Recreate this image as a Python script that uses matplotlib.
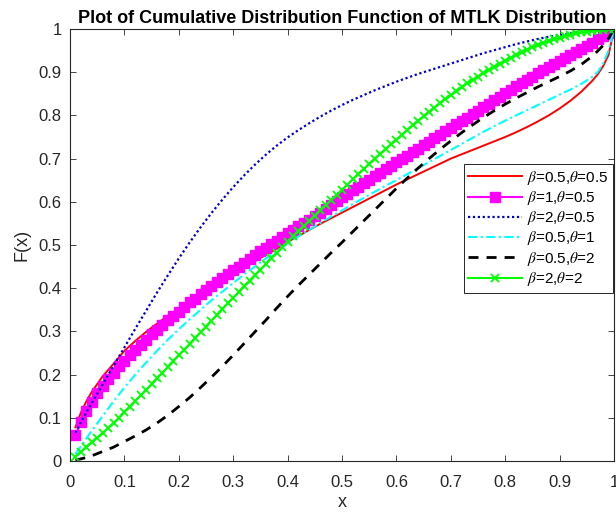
import matplotlib.pyplot as plt

plt.rcParams["font.family"] = ["Liberation Sans", "DejaVu Sans"]
plt.rcParams["mathtext.fontset"] = "stix"

# x grid for the two marker curves (0.01 step, as in the MATLAB plot)
x_fine = [
    0.01, 0.02, 0.03, 0.04, 0.05, 0.06, 0.07, 0.08, 0.09, 0.10,
    0.11, 0.12, 0.13, 0.14, 0.15, 0.16, 0.17, 0.18, 0.19, 0.20,
    0.21, 0.22, 0.23, 0.24, 0.25, 0.26, 0.27, 0.28, 0.29, 0.30,
    0.31, 0.32, 0.33, 0.34, 0.35, 0.36, 0.37, 0.38, 0.39, 0.40,
    0.41, 0.42, 0.43, 0.44, 0.45, 0.46, 0.47, 0.48, 0.49, 0.50,
    0.51, 0.52, 0.53, 0.54, 0.55, 0.56, 0.57, 0.58, 0.59, 0.60,
    0.61, 0.62, 0.63, 0.64, 0.65, 0.66, 0.67, 0.68, 0.69, 0.70,
    0.71, 0.72, 0.73, 0.74, 0.75, 0.76, 0.77, 0.78, 0.79, 0.80,
    0.81, 0.82, 0.83, 0.84, 0.85, 0.86, 0.87, 0.88, 0.89, 0.90,
    0.91, 0.92, 0.93, 0.94, 0.95, 0.96, 0.97, 0.98, 0.99, 1.00,
]

# x grid for the plain line curves
x_line = [
    0.01, 0.02, 0.03, 0.04, 0.06, 0.08, 0.10, 0.12, 0.14, 0.16,
    0.18, 0.20, 0.22, 0.24, 0.26, 0.28, 0.30, 0.32, 0.34, 0.36,
    0.38, 0.40, 0.42, 0.44, 0.46, 0.48, 0.50, 0.52, 0.54, 0.56,
    0.58, 0.60, 0.62, 0.64, 0.66, 0.68, 0.70, 0.72, 0.74, 0.76,
    0.78, 0.80, 0.82, 0.84, 0.86, 0.88, 0.90, 0.92, 0.94, 0.96,
    0.97, 0.98, 0.99, 1.00,
]

# beta=0.5, theta=0.5 (on x_line)
F_b05_t05 = [
    0.078, 0.112, 0.138, 0.160, 0.196, 0.225, 0.255, 0.278, 0.299, 0.318,
    0.336, 0.353, 0.369, 0.387, 0.403, 0.418, 0.433, 0.448, 0.463, 0.477,
    0.491, 0.507, 0.521, 0.535, 0.549, 0.562, 0.575, 0.588, 0.601, 0.614,
    0.627, 0.640, 0.652, 0.664, 0.676, 0.688, 0.700, 0.710, 0.720, 0.730,
    0.740, 0.750, 0.761, 0.773, 0.786, 0.800, 0.816, 0.834, 0.855, 0.880,
    0.895, 0.914, 0.940, 1.000,
]

# beta=2, theta=0.5 (on x_line)
F_b2_t05 = [
    0.065, 0.090, 0.112, 0.134, 0.177, 0.220, 0.263, 0.306, 0.348, 0.390,
    0.430, 0.469, 0.506, 0.541, 0.574, 0.605, 0.634, 0.661, 0.686, 0.709,
    0.730, 0.749, 0.766, 0.782, 0.797, 0.811, 0.824, 0.836, 0.847, 0.858,
    0.868, 0.878, 0.887, 0.896, 0.904, 0.912, 0.920, 0.928, 0.936, 0.944,
    0.951, 0.958, 0.965, 0.971, 0.977, 0.982, 0.986, 0.990, 0.993, 0.996,
    0.997, 0.998, 0.999, 1.000,
]

# beta=0.5, theta=1 (on x_line)
F_b05_t1 = [
    0.016, 0.034, 0.052, 0.070, 0.104, 0.138, 0.170, 0.200, 0.228, 0.255,
    0.281, 0.305, 0.328, 0.350, 0.372, 0.392, 0.412, 0.432, 0.450, 0.469,
    0.486, 0.503, 0.520, 0.535, 0.551, 0.566, 0.580, 0.595, 0.609, 0.623,
    0.637, 0.650, 0.664, 0.678, 0.692, 0.706, 0.720, 0.734, 0.748, 0.762,
    0.775, 0.788, 0.800, 0.812, 0.824, 0.836, 0.848, 0.860, 0.873, 0.889,
    0.900, 0.920, 0.950, 1.000,
]

# beta=0.5, theta=2 (on x_line)
F_b05_t2 = [
    0.002, 0.005, 0.008, 0.012, 0.022, 0.032, 0.045, 0.058, 0.072, 0.088,
    0.106, 0.126, 0.147, 0.170, 0.194, 0.219, 0.245, 0.272, 0.299, 0.326,
    0.354, 0.381, 0.407, 0.432, 0.457, 0.482, 0.506, 0.531, 0.556, 0.581,
    0.606, 0.631, 0.655, 0.678, 0.700, 0.721, 0.741, 0.760, 0.778, 0.795,
    0.811, 0.826, 0.840, 0.853, 0.866, 0.878, 0.890, 0.903, 0.918, 0.937,
    0.949, 0.962, 0.978, 1.000,
]

# beta=1, theta=0.5 (on x_fine)
F_b1_t05 = [
    0.060, 0.090, 0.115, 0.137, 0.157, 0.174, 0.190, 0.204, 0.219, 0.232,
    0.245, 0.257, 0.269, 0.281, 0.293, 0.304, 0.315, 0.326, 0.336, 0.346,
    0.356, 0.367, 0.376, 0.386, 0.396, 0.405, 0.414, 0.423, 0.433, 0.441,
    0.450, 0.459, 0.468, 0.476, 0.485, 0.493, 0.502, 0.510, 0.518, 0.527,
    0.535, 0.543, 0.551, 0.559, 0.567, 0.575, 0.584, 0.592, 0.601, 0.610,
    0.619, 0.627, 0.635, 0.643, 0.651, 0.659, 0.667, 0.675, 0.683, 0.691,
    0.699, 0.707, 0.715, 0.723, 0.731, 0.739, 0.747, 0.755, 0.763, 0.771,
    0.779, 0.787, 0.795, 0.803, 0.811, 0.819, 0.827, 0.835, 0.843, 0.851,
    0.859, 0.867, 0.874, 0.882, 0.889, 0.897, 0.904, 0.912, 0.919, 0.926,
    0.933, 0.940, 0.947, 0.954, 0.961, 0.968, 0.976, 0.983, 0.991, 1.000,
]

# beta=2, theta=2 (on x_fine)
F_b2_t2 = [
    0.010, 0.021, 0.032, 0.043, 0.054, 0.065, 0.076, 0.088, 0.100, 0.114,
    0.126, 0.139, 0.152, 0.165, 0.178, 0.191, 0.204, 0.218, 0.231, 0.245,
    0.258, 0.271, 0.285, 0.298, 0.311, 0.325, 0.338, 0.351, 0.365, 0.378,
    0.391, 0.404, 0.417, 0.430, 0.443, 0.456, 0.469, 0.482, 0.495, 0.508,
    0.520, 0.532, 0.544, 0.556, 0.568, 0.580, 0.592, 0.604, 0.616, 0.628,
    0.640, 0.652, 0.664, 0.676, 0.688, 0.700, 0.711, 0.722, 0.733, 0.744,
    0.755, 0.766, 0.777, 0.788, 0.798, 0.808, 0.818, 0.828, 0.838, 0.847,
    0.856, 0.865, 0.874, 0.882, 0.890, 0.898, 0.906, 0.913, 0.920, 0.927,
    0.934, 0.940, 0.946, 0.952, 0.958, 0.963, 0.968, 0.972, 0.976, 0.980,
    0.984, 0.987, 0.990, 0.992, 0.994, 0.996, 0.997, 0.998, 0.999, 1.000,
]

labels = [
    r"$\beta$=0.5,$\theta$=0.5",
    r"$\beta$=1,$\theta$=0.5",
    r"$\beta$=2,$\theta$=0.5",
    r"$\beta$=0.5,$\theta$=1",
    r"$\beta$=0.5,$\theta$=2",
    r"$\beta$=2,$\theta$=2",
]

tick_vals = [0, 0.1, 0.2, 0.3, 0.4, 0.5, 0.6, 0.7, 0.8, 0.9, 1]
tick_text = ["0", "0.1", "0.2", "0.3", "0.4", "0.5", "0.6", "0.7", "0.8", "0.9", "1"]

axis_grey = "#262626"

fig = plt.figure(figsize=(6.16, 5.15), dpi=100)
ax = fig.add_axes([70 / 616, 1 - 461 / 515, 544 / 616, 432 / 515])

ax.plot(x_line, F_b05_t05, color="red", linestyle="-", linewidth=1.4, label=labels[0])
ax.plot(x_fine, F_b1_t05, color="magenta", linestyle="-", linewidth=1.5,
        marker="s", markersize=6.5, markerfacecolor="magenta", label=labels[1])
ax.plot(x_line, F_b2_t05, color="#0000d0", linestyle=(0, (1, 1.2)), linewidth=1.6,
        label=labels[2])
ax.plot(x_line, F_b05_t1, color="cyan", linestyle=(0, (4.5, 1.6, 1, 1.6)), linewidth=1.5,
        label=labels[3])
ax.plot(x_line, F_b05_t2, color="black", linestyle=(0, (3.6, 2.9)), linewidth=2.0,
        label=labels[4])
ax.plot(x_fine, F_b2_t2, color="#00ff00", linestyle="-", linewidth=1.5,
        marker="x", markersize=6, markeredgewidth=1.3, label=labels[5])

ax.set_xlim(0, 1)
ax.set_ylim(0, 1)
ax.set_xticks(tick_vals)
ax.set_xticklabels(tick_text)
ax.set_yticks(tick_vals)
ax.set_yticklabels(tick_text)
ax.tick_params(direction="in", length=4, width=0.6, colors=axis_grey,
               labelsize=12, top=True, right=True)
ax.tick_params(axis="x", pad=10)
ax.tick_params(axis="y", pad=6)
for s in ax.spines.values():
    s.set_color(axis_grey)
    s.set_linewidth(0.8)

ax.set_xlabel("x", fontsize=13, color=axis_grey, labelpad=3)
ax.set_ylabel("F(x)", fontsize=13, color=axis_grey, labelpad=6)
ax.set_title("Plot of Cumulative Distribution Function of MTLK Distribution",
             fontsize=13, fontweight="bold", pad=4)

leg = ax.legend(loc="upper right", bbox_to_anchor=(0.998, 0.6875), borderaxespad=0,
                fontsize=11, handlelength=3.5, handletextpad=0.33, labelspacing=0.15,
                borderpad=0.3, fancybox=False, framealpha=1, edgecolor=axis_grey)
leg.get_frame().set_linewidth(0.7)

fig.savefig("out.png", dpi=100)
